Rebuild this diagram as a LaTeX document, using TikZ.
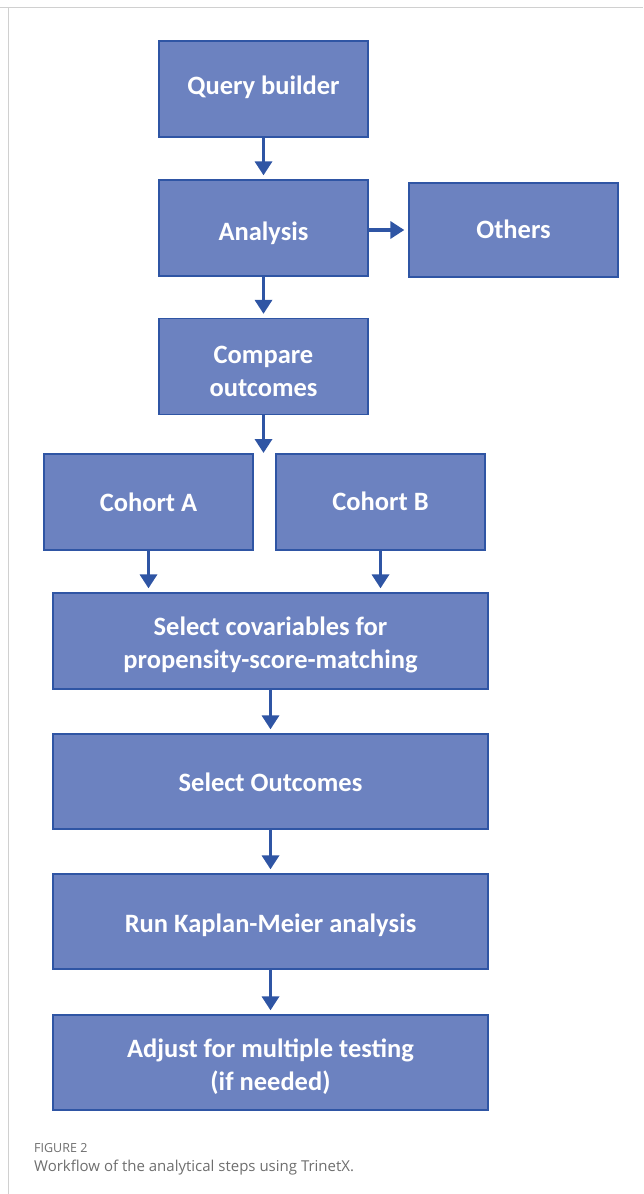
\documentclass[tikz,border=0pt]{standalone}
\usepackage{fontspec}
\setmainfont{Carlito}
\newfontfamily\capfont{Open Sans}
\usetikzlibrary{arrows.meta}
\definecolor{boxfill}{HTML}{6C82C0}
\definecolor{boxline}{HTML}{2F55A4}
\definecolor{arrowc}{HTML}{2F55A4}
\definecolor{capgray}{HTML}{6E6E6E}
\definecolor{framegray}{HTML}{D0D0D0}
\begin{document}
\begin{tikzpicture}[x=1pt,y=-1pt,
  box/.style={draw=boxline,line width=1.3pt,fill=boxfill,inner sep=0pt,
    minimum width=209pt,minimum height=96pt},
  wide/.style={box,minimum width=435pt},
  txt/.style={text=white,font=\fontsize{26.5}{33}\selectfont\bfseries,align=center,inner sep=0pt},
  flow/.style={draw=arrowc,line width=3.4pt,-{Triangle[length=14pt,width=17pt]},shorten >=4pt}]
\useasboundingbox (0,0) rectangle (643,1194);
\draw[framegray,line width=1pt] (0,7) -- (643,7);
\draw[framegray,line width=1pt] (8,7) -- (8,1194);
\node[box,label={[txt,yshift=2pt]center:Query builder}] (qb) at (263.5,89) {};
\node[box,label={[txt,yshift=-5pt]center:Analysis}] (an) at (263.5,228) {};
\node[box,minimum height=94pt,label={[txt,yshift=1pt]center:Others}] (ot) at (513.5,230) {};
\node[box,label={[txt,yshift=-5pt]center:{Compare\\outcomes}}] (co) at (263.5,366.5) {};
\node[box,label={[txt]center:Cohort A}] (ca) at (148.5,502) {};
\node[box,label={[txt,yshift=1pt]center:Cohort B}] (cb) at (380.5,502) {};
\node[wide,label={[txt,yshift=-4pt]center:{Select covariables for\\propensity-score-matching}}] (sc) at (270.5,641) {};
\node[wide,minimum height=95pt,label={[txt,yshift=-1pt]center:Select Outcomes}] (so) at (270.5,781.5) {};
\node[wide,minimum height=95pt,label={[txt,yshift=-4pt]center:Run Kaplan-Meier analysis}] (km) at (270.5,921.5) {};
\node[wide,minimum height=95pt,label={[txt,yshift=-4.5pt]center:{Adjust for multiple testing\\(if needed)}}] (ad) at (270.5,1062.5) {};
\coordinate (split) at (263.5,457);
\draw[flow] (qb.south) -- (an.north);
\draw[flow] (an.east |- ot.west) -- (ot.west);
\draw[flow] (an.south) -- (co.north);
\draw[flow] (co.south) -- (split);
\draw[flow] (ca.south) -- (ca.south |- sc.north);
\draw[flow] (cb.south) -- (cb.south |- sc.north);
\draw[flow] (sc.south) -- (so.north);
\draw[flow] (so.south) -- (km.north);
\draw[flow] (km.south) -- (ad.north);
\node[anchor=base west,text=capgray,font=\capfont\fontsize{12.5}{14}\selectfont,inner sep=0pt] (fig) at (34,1152) {FIGURE 2};
\node[anchor=base west,text=capgray,font=\capfont\fontsize{15}{18}\selectfont,inner sep=0pt] (capt) at (34,1171) {Workflow of the analytical steps using TrinetX.};
\end{tikzpicture}
\end{document}
